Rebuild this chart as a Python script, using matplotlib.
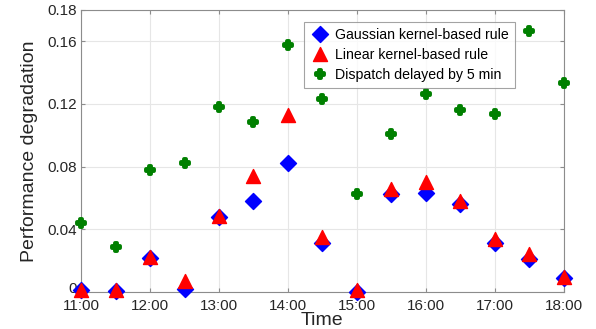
import matplotlib
matplotlib.use("Agg")
import matplotlib.pyplot as plt
from matplotlib.markers import MarkerStyle
from matplotlib.transforms import ScaledTranslation
import numpy as np

plt.rcParams['font.family'] = ['Liberation Sans', 'DejaVu Sans']

times = [11.0, 11.5, 12.0, 12.5, 13.0, 13.5, 14.0, 14.5, 15.0, 15.5, 16.0, 16.5, 17.0, 17.5, 18.0]
gaussian = [0.001, 0.0005, 0.0217, 0.002, 0.0479, 0.0581, 0.0823, 0.0315, 0.0002, 0.0624, 0.063, 0.056, 0.0311, 0.0209, 0.0087]
linear = [0.0015, 0.001, 0.0225, 0.0072, 0.0485, 0.0742, 0.113, 0.0349, 0.0013, 0.0655, 0.0704, 0.0583, 0.0336, 0.0243, 0.0098]
delayed = [0.044, 0.0287, 0.0779, 0.0823, 0.118, 0.1085, 0.1577, 0.1232, 0.0627, 0.1005, 0.1264, 0.1162, 0.1136, 0.1666, 0.1334]

xtick_vals = [11, 12, 13, 14, 15, 16, 17, 18]
xtick_labels = ['11:00', '12:00', '13:00', '14:00', '15:00', '16:00', '17:00', '18:00']
ytick_vals = [0, 0.04, 0.08, 0.12, 0.16, 0.18]
ytick_labels = ['0', '0.04', '0.08', '0.12', '0.16', '0.18']

fig = plt.figure(figsize=(5.96, 3.29), dpi=100)
ax = fig.add_axes([0.136, 0.1125, 0.81, 0.8575])

ax.plot(times, gaussian, linestyle='none', marker=MarkerStyle('D', joinstyle='round'),
        markersize=8.5, color='blue', markeredgecolor='blue',
        label='Gaussian kernel-based rule', zorder=3, clip_on=False)
ax.plot(times, linear, linestyle='none', marker=MarkerStyle('^', joinstyle='round'),
        markersize=10, color='red', markeredgecolor='red',
        label='Linear kernel-based rule', zorder=4, clip_on=False)
ax.plot(times, delayed, linestyle='none', marker=MarkerStyle('P', joinstyle='round'),
        markersize=5.5, color='green', markeredgecolor='green', markeredgewidth=2.8,
        label='Dispatch delayed by 5 min', zorder=3, clip_on=False)

ax.set_xlim(11, 18)
ax.set_ylim(0, 0.18)
ax.set_xticks(xtick_vals)
ax.set_xticklabels(xtick_labels)
ax.set_yticks(ytick_vals)
ax.set_yticklabels(ytick_labels)
ax.grid(True, color='#e6e6e6', linewidth=0.8)
ax.set_axisbelow(True)
for s in ax.spines.values():
    s.set_color('#8c8c8c')
    s.set_linewidth(0.8)
ax.tick_params(direction='in', length=3, colors='#8c8c8c', labelcolor='#262626',
               labelsize=11, top=True, right=True)
ax.tick_params(axis='x', pad=5)
ax.tick_params(axis='y', pad=3)

ax.set_xlabel('Time', fontsize=14, color='#262626', labelpad=-1)
ax.set_ylabel('Performance degradation', fontsize=14, color='#262626', labelpad=7)

leg = ax.legend(loc='upper left', bbox_to_anchor=(0.462, 0.957), fontsize=10.2,
                frameon=True, fancybox=False, edgecolor='#8c8c8c', handletextpad=0.3,
                borderpad=0.4, labelspacing=0.45, handlelength=1.5, borderaxespad=0)
leg.get_frame().set_linewidth(0.8)

fig.canvas.draw()
zero_lbl = ax.yaxis.get_major_ticks()[0].label1
zero_lbl.set_transform(zero_lbl.get_transform() + ScaledTranslation(0, 4 / 100, fig.dpi_scale_trans))

fig.savefig('out.png', dpi=100)
